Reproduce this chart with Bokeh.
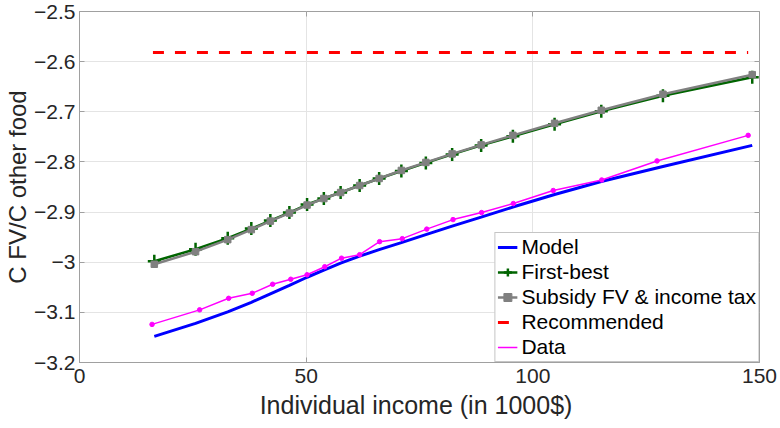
from bokeh.plotting import figure
from bokeh.models import Range1d, FixedTicker, Legend, LegendItem, LinearAxis, CustomJSTickFormatter
from bokeh.embed import file_html
from bokeh.resources import INLINE

# ---- data ----
income = [16.5, 25.6, 32.7, 37.9, 42.1, 46.3, 50.2, 53.9, 57.6, 61.8,
          66.1, 71.0, 76.4, 82.2, 88.6, 95.6, 104.8, 115.1, 128.7, 148.4]
model = [-3.148, -3.122, -3.099, -3.080, -3.063, -3.046, -3.030, -3.016, -3.002, -2.988,
         -2.975, -2.961, -2.945, -2.928, -2.910, -2.890, -2.865, -2.839, -2.809, -2.767]
first_best = [-2.998, -2.974, -2.952, -2.933, -2.917, -2.901, -2.885, -2.873, -2.861, -2.847,
              -2.833, -2.818, -2.802, -2.785, -2.767, -2.749, -2.725, -2.699, -2.668, -2.631]
subsidy = [-3.004, -2.979, -2.955, -2.935, -2.918, -2.902, -2.886, -2.873, -2.861, -2.847,
           -2.833, -2.817, -2.801, -2.784, -2.766, -2.747, -2.723, -2.697, -2.665, -2.626]
data_income = [16.0, 26.5, 32.9, 38.1, 42.6, 46.6, 50.2, 54.1, 57.8, 61.8,
               66.2, 71.2, 76.6, 82.4, 88.7, 95.7, 104.5, 115.2, 127.4, 147.5]
data_vals = [-3.124, -3.095, -3.072, -3.062, -3.044, -3.034, -3.025, -3.009, -2.992, -2.985,
             -2.959, -2.953, -2.934, -2.915, -2.901, -2.883, -2.857, -2.836, -2.798, -2.747]
recommended_x = [16.2, 147.5]
recommended_y = [-2.582, -2.582]

x_ticks = [0, 50, 100, 150]
y_ticks = [-3.2, -3.1, -3.0, -2.9, -2.8, -2.7, -2.6, -2.5]
y_tick_labels = ["\u22123.2", "\u22123.1", "\u22123", "\u22122.9", "\u22122.8",
                 "\u22122.7", "\u22122.6", "\u22122.5"]

FONT = "Liberation Sans"
TXT = "#262626"
AX = "#a0a0a0"

p = figure(width=780, height=428, output_backend="svg", toolbar_location=None,
           x_range=Range1d(0, 150), y_range=Range1d(-3.2, -2.5),
           min_border_left=79, min_border_right=21, min_border_top=11, min_border_bottom=66)
p.outline_line_color = AX
p.outline_line_width = 1
p.background_fill_color = "white"

for ax in (p.xaxis[0], p.yaxis[0]):
    ax.axis_line_color = AX
    ax.major_tick_line_color = AX
    ax.major_tick_in = 5
    ax.major_tick_out = 0
    ax.minor_tick_line_color = None
    ax.major_label_text_font = FONT
    ax.major_label_text_font_size = "21px"
    ax.major_label_text_color = TXT
    ax.axis_label_text_font = FONT
    ax.axis_label_text_font_size = "25px"
    ax.axis_label_text_font_style = "normal"
    ax.axis_label_text_color = TXT

p.yaxis.axis_label_text_font_size = "24px"
p.xaxis.ticker = FixedTicker(ticks=x_ticks)
p.yaxis.ticker = FixedTicker(ticks=y_ticks)
p.yaxis.major_label_overrides = {t: l for t, l in zip(y_ticks, y_tick_labels)}
p.xaxis.major_label_standoff = 6
p.yaxis.major_label_standoff = 4
p.xaxis.axis_label_standoff = 5
p.yaxis.axis_label_standoff = 0
p.xaxis.axis_label = "Individual  income (in 1000$)"
p.yaxis.axis_label = "C FV/C other food"

# box ticks on the top and right edges (no labels)
blank = CustomJSTickFormatter(code="return ''")
top_ax = LinearAxis(ticker=FixedTicker(ticks=x_ticks), formatter=blank,
                    axis_line_color=None, major_tick_line_color=AX,
                    major_tick_in=5, major_tick_out=0, minor_tick_line_color=None,
                    major_label_standoff=0, major_label_text_font_size="1px")
right_ax = LinearAxis(ticker=FixedTicker(ticks=y_ticks), formatter=blank,
                      axis_line_color=None, major_tick_line_color=AX,
                      major_tick_in=5, major_tick_out=0, minor_tick_line_color=None,
                      major_label_standoff=0, major_label_text_font_size="1px")
p.add_layout(top_ax, "above")
p.add_layout(right_ax, "right")

p.xgrid.grid_line_color = "#e4e4e4"
p.ygrid.grid_line_color = "#e4e4e4"
p.xgrid.ticker = FixedTicker(ticks=x_ticks)
p.ygrid.ticker = FixedTicker(ticks=y_ticks)

r_model = p.line(income, model, line_color="#0000ff", line_width=3)
r_fb_l = p.line(income, first_best, line_color="#006400", line_width=2.5)
r_fb_m = p.scatter(income, first_best, marker="cross", size=13, line_color="#006400",
                   line_width=2.5)
r_sub_l = p.line(income, subsidy, line_color="#808080", line_width=2.5)
r_sub_m = p.scatter(income, subsidy, marker="square", size=6.5, line_color="#808080",
                    fill_color="#808080")
r_rec = p.line(recommended_x, recommended_y, line_color="#ff0000", line_width=3,
               line_dash="11 11")
r_data_l = p.line(data_income, data_vals, line_color="#ff00ff", line_width=1.5)
r_data_m = p.scatter(data_income, data_vals, marker="circle", size=4.5,
                     line_color="#ff00ff", fill_color="#ff00ff")

legend = Legend(items=[
    LegendItem(label="Model", renderers=[r_model]),
    LegendItem(label="First-best", renderers=[r_fb_l, r_fb_m]),
    LegendItem(label="Subsidy FV & income tax", renderers=[r_sub_l, r_sub_m]),
    LegendItem(label="Recommended", renderers=[r_rec]),
    LegendItem(label="Data", renderers=[r_data_l]),
], location="bottom_right")
legend.label_text_font = FONT
legend.label_text_font_size = "21px"
legend.label_text_color = "black"
legend.glyph_width = 20
legend.glyph_height = 24
legend.label_height = 24
legend.label_standoff = 4
legend.spacing = 1
legend.padding = 2
legend.margin = 0
legend.border_line_color = "#8c8c8c"
legend.border_line_width = 1
legend.background_fill_alpha = 1
p.add_layout(legend)

open("out.html", "w").write(file_html(p, INLINE))
